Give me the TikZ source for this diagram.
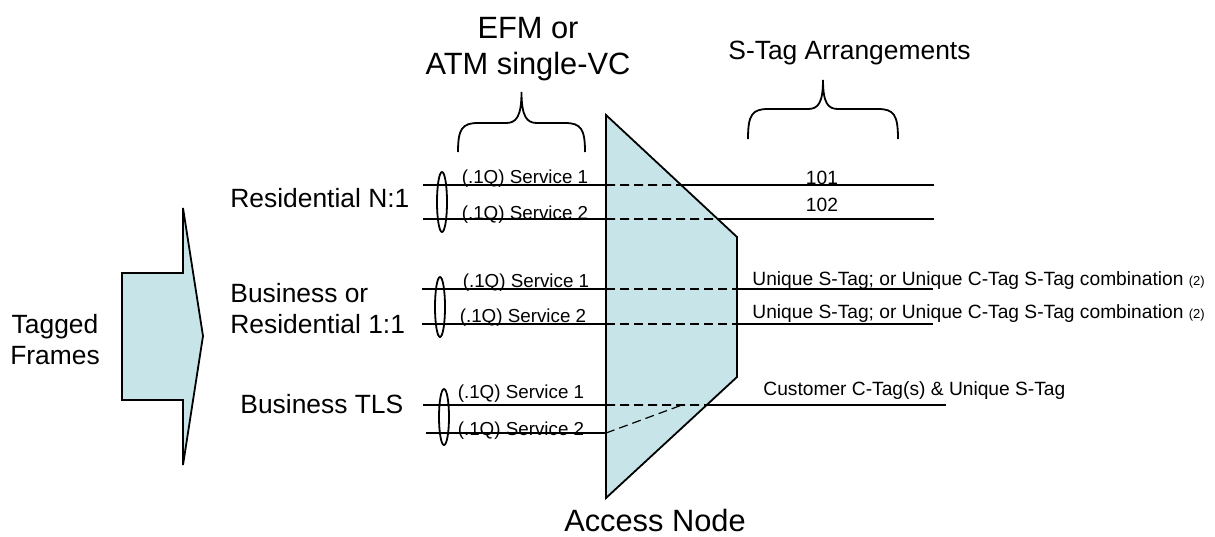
\documentclass[tikz,border=0pt]{standalone}
\usepackage{fontspec}
\setmainfont{Liberation Sans}
\usepackage{xcolor}
\usetikzlibrary{positioning, shapes.geometric}
\definecolor{accessblue}{RGB}{199,229,233}

\begin{document}
\begin{tikzpicture}[x=0.5pt, y=-0.5pt,
	big/.style={font=\fontsize{13.2}{15.5}\selectfont, inner sep=0},
	bigger/.style={font=\fontsize{15.4}{18}\selectfont, inner sep=0},
	svc/.style={font=\fontsize{9.4}{11}\selectfont, inner sep=0},
	tagtxt/.style={font=\fontsize{9.6}{11}\selectfont, inner sep=0},
	wire/.style={draw=black, line width=0.8pt},
	hidden/.style={draw=black, line width=0.8pt, dash pattern=on 4.5pt off 2.5pt},
	block/.style={draw=black, fill=accessblue, line width=0.9pt, line join=miter},
	ring/.style={ellipse, draw=black, line width=0.9pt, minimum width=5pt, minimum height=30pt, inner sep=0},
	curly/.style={draw=black, line width=0.9pt},
	]
	\useasboundingbox (0,0) rectangle (1215,536);

		%Corners of the access node
		\coordinate (an-tl) at (606,115);
		\coordinate (an-tr) at (737,237);
		\coordinate (an-br) at (737,377);
		\coordinate (an-bl) at (606,498);

		%Ends of the service lines
		\coordinate (r1a) at (423,185); \coordinate (r1b) at (934,185);
		\coordinate (r2a) at (423,219); \coordinate (r2b) at (934,219);
		\coordinate (b1a) at (422,289); \coordinate (b1b) at (933,289);
		\coordinate (b2a) at (422,324); \coordinate (b2b) at (933,324);
		\coordinate (t1a) at (423,405); \coordinate (t1b) at (946,405);
		\coordinate (t2a) at (426,433); \coordinate (t2end) at (682,405);

		%Lines
		\draw[wire] (r1a) -- (r1b);
		\draw[wire] (r2a) -- (r2b);
		\draw[wire] (b1a) -- (b1b);
		\draw[wire] (b2a) -- (b2b);
		\draw[wire] (t1a) -- (t1b);
		\draw[wire] (t2a) -- (t2a -| an-bl);

		%Shapes
		\draw[block] (122,273) -- (183,273) -- (183,208) -- (203,336) -- (183,465) -- (183,400) -- (122,400) -- cycle;
		\draw[block] (an-tl) -- (an-tr) -- (an-br) -- (an-bl) -- cycle;

		%Lines through the access node
		\draw[hidden] (r1a -| an-tl) -- (intersection of an-tl--an-tr and r1a--r1b);
		\draw[hidden] (r2a -| an-tl) -- (intersection of an-tl--an-tr and r2a--r2b);
		\draw[hidden] (b1a -| an-tl) -- (b1a -| an-tr);
		\draw[hidden] (b2a -| an-tl) -- (b2a -| an-tr);
		\draw[hidden] (t1a -| an-bl) -- (intersection of an-br--an-bl and t1a--t1b);
		\draw[hidden, line width=0.6pt] (t2a -| an-bl) -- (t2end);

		%Groups
		\node[ring]                        (grpres)  at (442,202) {};
		\node[ring]                        (grpbiz)  at (440,307) {};
		\node[ring, minimum height=28pt]   (grptls)  at (444,417) {};

		%Braces
		\draw[curly] (458,152) .. controls (458,129) and (462,123) .. (478,123) -- (506,123)
			.. controls (516,123) and (521.5,117) .. (521.5,92)
			.. controls (521.5,117) and (527,123) .. (537,123) -- (565,123)
			.. controls (581,123) and (585,129) .. (585,152);
		\draw[curly] (748,139) .. controls (748,115) and (752,109) .. (768,109) -- (808,109)
			.. controls (818,109) and (823,103) .. (823,80)
			.. controls (823,103) and (828,109) .. (838,109) -- (878,109)
			.. controls (894,109) and (898,115) .. (898,139);

		%Nodes
		\node[big, anchor=base]        (tagged)  at (55,333)  {Tagged};
		\node[big]                     (frames)  [below=15.5pt of tagged.base, anchor=base] {Frames};
		\node[bigger, anchor=base]     (efm)     at (528,38)  {EFM or};
		\node[bigger]                  (atm)     [below=18pt of efm.base, anchor=base] {ATM single-VC};
		\node[big, anchor=base west]   (stag)    at (728,59)  {S-Tag Arrangements};
		\node[big, anchor=base west]   (resnn)   at (230,207) {Residential N:1};
		\node[big, anchor=base west]   (bizor)   at (230,302) {Business or};
		\node[big]                     (res11)   [below=15.5pt of bizor.base west, anchor=base west] {Residential 1:1};
		\node[big, anchor=base west]   (biztls)  at (240,413) {Business TLS};
		\node[bigger, anchor=base]     (access)  at (655,531) {Access Node};

		\node[svc, anchor=base]        (svcr1)   at (525,183) {(.1Q) Service 1};
		\node[svc, anchor=base]        (svcr2)   at (525,219) {(.1Q) Service 2};
		\node[svc, anchor=base]        (svcb1)   at (526,287) {(.1Q) Service 1};
		\node[svc, anchor=base]        (svcb2)   at (523,322) {(.1Q) Service 2};
		\node[svc, anchor=base]        (svct1)   at (521,398) {(.1Q) Service 1};
		\node[svc, anchor=base]        (svct2)   at (521,435) {(.1Q) Service 2};

		\node[tagtxt, anchor=base]     (s101)    at (822,184) {101};
		\node[tagtxt]                  (s102)    [below=13.5pt of s101.base, anchor=base] {102};
		\node[tagtxt, anchor=base west] (uniq1)  at (752,285) {Unique S-Tag; or Unique C-Tag S-Tag combination {\fontsize{6.5}{8}\selectfont (2)}};
		\node[tagtxt]                  (uniq2)   [below=16.5pt of uniq1.base west, anchor=base west] {Unique S-Tag; or Unique C-Tag S-Tag combination {\fontsize{6.5}{8}\selectfont (2)}};
		\node[tagtxt, anchor=base west] (cust)   at (763,395) {Customer C-Tag(s) \& Unique S-Tag};
	\end{tikzpicture}
\end{document}
